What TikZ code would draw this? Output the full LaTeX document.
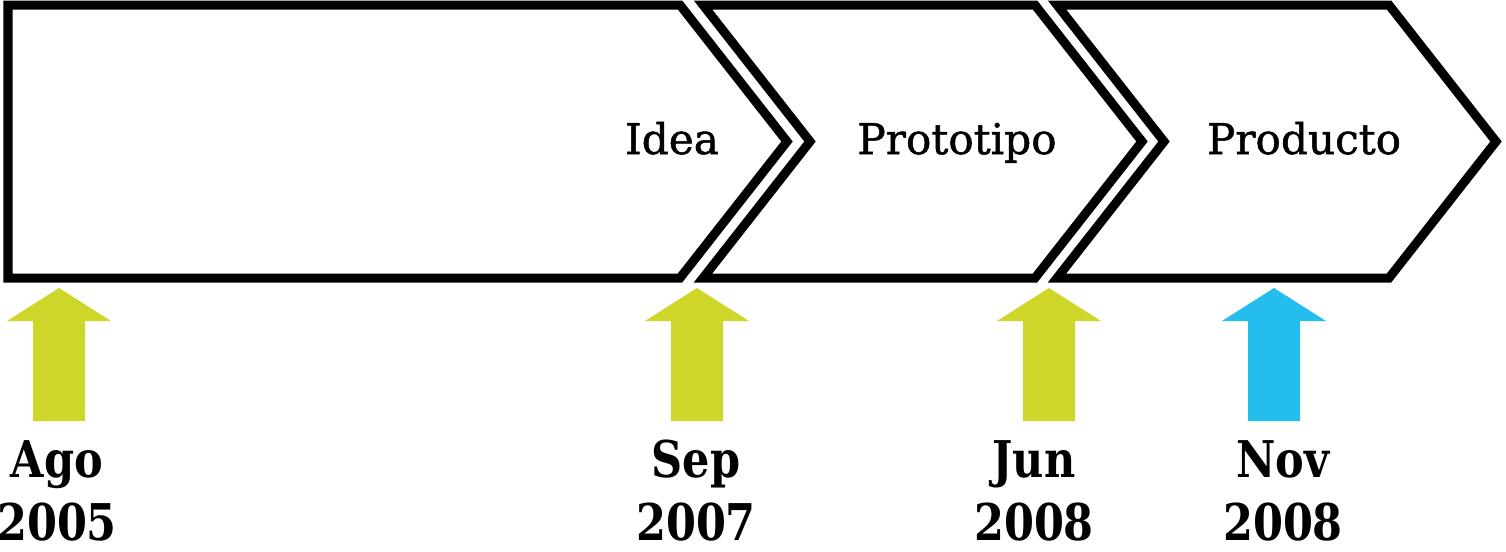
\documentclass[tikz,border=0pt]{standalone}
\usepackage{fontspec}
\setmainfont{DejaVu Serif}
\newfontfamily\stagefont[FakeBold=1.2]{DejaVu Serif}
\newfontfamily\datefont[FakeStretch=0.85]{DejaVu Serif}
\usetikzlibrary{positioning}
\definecolor{limemark}{RGB}{205,214,41}
\definecolor{skymark}{RGB}{36,189,237}
\begin{document}
\begin{tikzpicture}[
    x=0.01cm, y=-0.01cm,
    stage/.style={draw=black, line width=0.09cm, miter limit=10},
    stagename/.style={font=\stagefont\fontsize{12}{14}\selectfont, anchor=base, inner sep=0pt},
    month/.style={font=\datefont\bfseries\fontsize{14.4}{17}\selectfont, anchor=base, inner sep=0pt},
    year/.style={month, below=0.63cm of #1.base, anchor=base}
]
    \useasboundingbox (0,0) rectangle (1506,551);

    % stages
    \draw[stage] (8,5) -- (680,5) -- (787,141.5) -- (680,278) -- (8,278) -- cycle;
    \draw[stage] (703,5) -- (1035,5) -- (1142,141.5) -- (1035,278) -- (703,278) -- (810,141.5) -- cycle;
    \draw[stage] (1057,5) -- (1389,5) -- (1496,141.5) -- (1389,278) -- (1057,278) -- (1164,141.5) -- cycle;

    \node[stagename] (idea) at (672,154) {Idea};
    \node[stagename] (proto) at (957,154) {Prototipo};
    \node[stagename] (prod) at (1304,154) {Producto};

    % milestones
    \foreach \ax/\col in {59/limemark, 697/limemark, 1049/limemark, 1274/skymark}
        \fill[\col] (\ax-26,421) -- (\ax-26,321) -- (\ax-52,321) -- (\ax,288)
            -- (\ax+52,321) -- (\ax+26,321) -- (\ax+26,421) -- cycle;

    \node[month] (ago) at (57,477) {Ago};
    \node[year=ago] (agoy) {2005};
    \node[month] (sep) at (696,477) {Sep};
    \node[year=sep] (sepy) {2007};
    \node[month] (jun) at (1034,477) {Jun};
    \node[year=jun] (juny) {2008};
    \node[month] (nov) at (1283,477) {Nov};
    \node[year=nov] (novy) {2008};
\end{tikzpicture}
\end{document}
